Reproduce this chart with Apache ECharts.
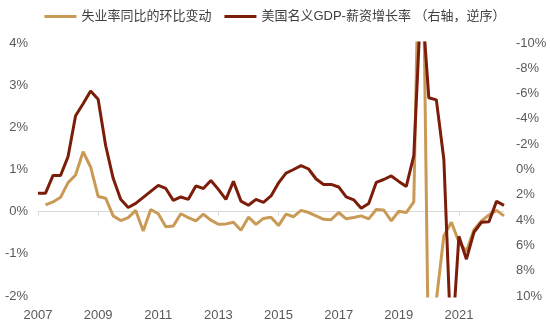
<!DOCTYPE html>
<html>
<head>
<meta charset="utf-8">
<script src="https://cdn.jsdelivr.net/npm/echarts@6/dist/echarts.min.js"></script>
<style>
  html, body { margin: 0; padding: 0; background: #fff; }
  #chart { width: 550px; height: 323px; }
</style>
</head>
<body>
<div id="chart"></div>
<script>
// Quarterly categories, 2007Q3 .. 2023Q1
const startYear = 2007, startQuarter = 3, quarterCount = 63;
const quarters = [];
for (let k = 0; k < quarterCount; k++) {
  const q = startQuarter - 1 + k;
  quarters.push((startYear + Math.floor(q / 4)) + 'Q' + (q % 4 + 1));
}

// Year tick labels shown on the time axis (every 8 quarters)
const yearLabels = ['2007', '2009', '2011', '2013', '2015', '2017', '2019', '2021'];

const seriesNames = ['失业率同比的环比变动', '美国名义GDP-薪资增长率 （右轴，逆序）'];

// Quarter-on-quarter change of the y/y unemployment change (%, left axis)
const unemploymentChange = [
  null, 0.16, 0.23, 0.34, 0.69, 0.87, 1.42, 1.06, 0.36, 0.32,
  -0.10, -0.21, -0.14, 0.03, -0.46, 0.05, -0.05, -0.36, -0.34, -0.05,
  -0.14, -0.22, -0.06, -0.20, -0.30, -0.29, -0.25, -0.44, -0.13, -0.30,
  -0.16, -0.13, -0.33, -0.06, -0.12, 0.03, -0.02, -0.10, -0.18, -0.19,
  -0.02, -0.17, -0.14, -0.10, -0.17, 0.05, 0.04, -0.22, 0.01, -0.02,
  0.23, 9.5, -4.2, -2.1, -0.57, -0.25, -0.72, -0.94, -0.43, -0.22,
  -0.08, 0.03, -0.10
];

// Nominal GDP growth minus wage growth (%, right axis, inverted)
const gdpMinusWage = [
  1.87, 1.87, 0.47, 0.47, -1.02, -4.25, -5.2, -6.2, -5.55, -1.9,
  0.7, 2.36, 3.0, 2.68, 2.2, 1.73, 1.26, 1.5, 2.44, 2.17,
  2.36, 1.3, 1.5, 0.87, 1.57, 2.36, 0.94, 2.5, 2.83, 2.36,
  2.6, 2.09, 1.06, 0.28, 0.0, -0.31, -0.04, 0.75, 1.18, 1.18,
  1.38, 2.17, 2.4, 3.07, 2.68, 1.02, 0.79, 0.51, 0.94, 1.34,
  -1.1, -14.0, -5.67, -5.5, -0.79, 14.5, 5.28, 7.09, 4.96, 4.17,
  4.13, 2.52, 2.83
];

const tanColor = '#C99A55';
const darkColor = '#7C1D0A';
const fontFamily = '"Liberation Sans", Arial, "Noto Sans CJK SC", sans-serif';

const chart = echarts.init(document.getElementById('chart'), null, { renderer: 'canvas' });

chart.setOption({
  animation: false,
  textStyle: { fontFamily: fontFamily },
  legend: {
    top: 5,
    left: 'center',
    icon: 'rect',
    itemWidth: 32,
    itemHeight: 3,
    itemGap: 13,
    textStyle: { fontSize: 13, color: '#404040', fontFamily: fontFamily },
    data: seriesNames
  },
  grid: { left: 38, right: 46, top: 43, bottom: 27, containLabel: false },
  xAxis: [
    {
      type: 'category',
      data: quarters,
      boundaryGap: false,
      axisLine: { onZero: true, onZeroAxisIndex: 0, lineStyle: { color: '#d9d9d9', width: 1 } },
      axisTick: { show: true, interval: 7, length: 4, lineStyle: { color: '#d9d9d9' } },
      axisLabel: { show: false },
      splitLine: { show: false }
    },
    {
      type: 'category',
      data: quarters,
      boundaryGap: false,
      position: 'bottom',
      axisLine: { show: false, onZero: false },
      axisTick: { show: false },
      axisLabel: {
        interval: 7,
        margin: 13,
        fontSize: 13,
        color: '#595959',
        formatter: function (v, idx) { return yearLabels[idx / 8] || ''; }
      },
      splitLine: { show: false }
    }
  ],
  yAxis: [
    {
      type: 'value',
      min: -2, max: 4, interval: 1,
      axisLine: { show: false },
      axisTick: { show: false },
      splitLine: { show: false },
      axisLabel: { formatter: '{value}%', fontSize: 13, color: '#595959', margin: 10 }
    },
    {
      type: 'value',
      min: -10, max: 10, interval: 2,
      inverse: true,
      position: 'right',
      axisLine: { show: false },
      axisTick: { show: false },
      splitLine: { show: false },
      axisLabel: { formatter: '{value}%', fontSize: 13, color: '#595959', margin: 12 }
    }
  ],
  series: [
    {
      name: seriesNames[0],
      type: 'line',
      xAxisIndex: 0,
      yAxisIndex: 0,
      data: unemploymentChange,
      showSymbol: false,
      symbol: 'none',
      clip: true,
      lineStyle: { color: tanColor, width: 3 },
      itemStyle: { color: tanColor },
      z: 2
    },
    {
      name: seriesNames[1],
      type: 'line',
      xAxisIndex: 0,
      yAxisIndex: 1,
      data: gdpMinusWage,
      showSymbol: false,
      symbol: 'none',
      clip: true,
      lineStyle: { color: darkColor, width: 3 },
      itemStyle: { color: darkColor },
      z: 3
    }
  ]
});
</script>
</body>
</html>
